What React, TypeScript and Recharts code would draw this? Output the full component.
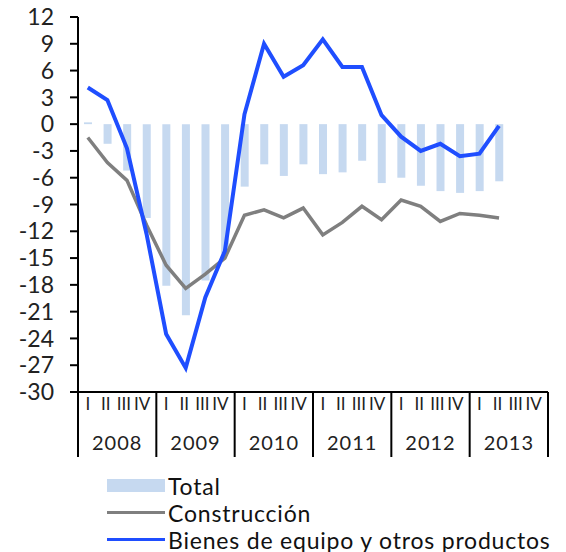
import {
  ComposedChart,
  Bar,
  Line,
  XAxis,
  YAxis,
} from "recharts";

const years = ["2008", "2009", "2010", "2011", "2012", "2013"];
const quarters = ["I", "II", "III", "IV"];

// 2008-I .. 2013-IV, last two quarters without data
const total = [
  0.2, -2.2, -5.2, -10.5, -18.1, -21.4, -17.5, -14.5,
  -7.0, -4.5, -5.8, -4.5, -5.6, -5.4, -4.1, -6.6,
  -6.0, -6.9, -7.5, -7.7, -7.5, -6.4, null, null,
];
const construccion = [
  -1.5, -4.3, -6.3, -11.3, -15.8, -18.4, -16.8, -15.0,
  -10.2, -9.6, -10.5, -9.4, -12.4, -11.0, -9.2, -10.7,
  -8.5, -9.2, -10.9, -10.0, -10.2, -10.5, null, null,
];
const bienes = [
  4.1, 2.7, -2.7, -12.3, -23.5, -27.3, -19.4, -14.2,
  1.1, 9.0, 5.3, 6.6, 9.5, 6.4, 6.4, 1.0,
  -1.4, -3.0, -2.2, -3.6, -3.3, -0.2, null, null,
];
const yTicks = [12, 9, 6, 3, 0, -3, -6, -9, -12, -15, -18, -21, -24, -27, -30];

const data = years.flatMap((y, yi) =>
  quarters.map((q, qi) => {
    const i = yi * 4 + qi;
    return {
      key: y + "-" + q,
      year: y,
      q,
      total: total[i],
      construccion: construccion[i],
      bienes: bienes[i],
    };
  })
);

const FONT = "Lato, 'DejaVu Sans', sans-serif";
const BAND = 470 / 24;

function QuarterTick({ x, y, payload }: any) {
  const d = data[payload.index];
  const isFirst = payload.index % 4 === 0;
  const isLast = payload.index === data.length - 1;
  return (
    <g>
      <text
        x={x - (payload.index % 4) * 1.5}
        y={y + 18}
        textAnchor="middle"
        fontSize={17}
        fontFamily={FONT}
        fill="#222"
      >
        {d.q}
      </text>
      {isFirst && (
        <>
          <line x1={x - BAND / 2} x2={x - BAND / 2} y1={y} y2={y + 65} stroke="#000" strokeWidth={2} />
          <text
            x={x + BAND * 1.5}
            y={y + 58}
            textAnchor="middle"
            fontSize={20}
            letterSpacing={1}
            fontFamily={FONT}
            fill="#222"
          >
            {d.year}
          </text>
        </>
      )}
      {isLast && (
        <line x1={x + BAND / 2} x2={x + BAND / 2} y1={y} y2={y + 65} stroke="#000" strokeWidth={2} />
      )}
    </g>
  );
}

function LegendRow({ top, kind, color, label }: any) {
  return (
    <div style={{ position: "absolute", left: 107, top, height: 27, display: "flex", alignItems: "center" }}>
      {kind === "bar" ? (
        <div style={{ width: 58, height: 13, background: color }} />
      ) : (
        <div style={{ width: 58, height: 3, background: color }} />
      )}
      <span
        style={{
          marginLeft: 3,
          fontFamily: FONT,
          fontSize: 23,
          letterSpacing: 0.8,
          color: "#111",
          whiteSpace: "nowrap",
        }}
      >
        {label}
      </span>
    </div>
  );
}

export default function App() {
  return (
    <div style={{ position: "absolute", left: 0, top: 0, width: 566, height: 552, background: "#fff" }}>
      <ComposedChart
        width={566}
        height={552}
        data={data}
        margin={{ top: 17, right: 18, bottom: 0, left: 0 }}
        barCategoryGap={0}
      >
        <XAxis
          dataKey="key"
          height={160}
          interval={0}
          tickSize={0}
          tickMargin={0}
          tickLine={false}
          axisLine={{ stroke: "#000", strokeWidth: 2 }}
          tick={<QuarterTick />}
        />
        <YAxis
          width={78}
          domain={[-30, 12]}
          ticks={yTicks}
          interval={0}
          tickSize={8}
          tickMargin={16}
          axisLine={{ stroke: "#000", strokeWidth: 2 }}
          tickLine={{ stroke: "#000", strokeWidth: 2 }}
          tick={{ fontSize: 23, fontFamily: FONT, fill: "#222" }}
        />
        <Bar dataKey="total" fill="#c6d9f0" barSize={8} isAnimationActive={false} />
        <Line
          dataKey="construccion"
          stroke="#7f7f7f"
          strokeWidth={3.5}
          dot={false}
          isAnimationActive={false}
        />
        <Line
          dataKey="bienes"
          stroke="#1f4eff"
          strokeWidth={4}
          dot={false}
          isAnimationActive={false}
        />
      </ComposedChart>
      <LegendRow top={472} kind="bar" color="#c6d9f0" label="Total" />
      <LegendRow top={499} kind="line" color="#7f7f7f" label="Construcción" />
      <LegendRow top={526} kind="line" color="#1f4eff" label="Bienes de equipo y otros productos" />
    </div>
  );
}
